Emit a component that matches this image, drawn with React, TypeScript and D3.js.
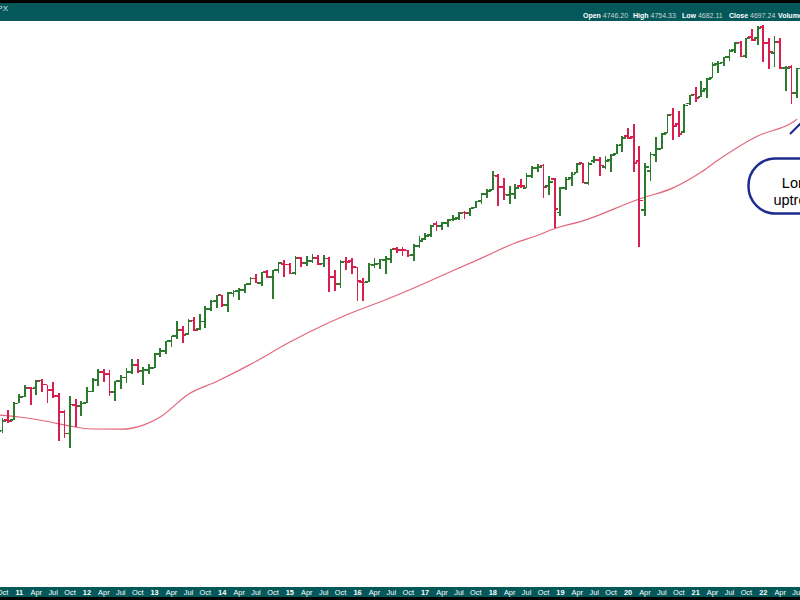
import React from "react";
import * as d3 from "d3";

// monthly $SPX bars, Sep 2010 .. Jul 2022
const opens = [
  1050, 1143, 1186, 1187,
  1258, 1289, 1329, 1329, 1365, 1345, 1321, 1293, 1219, 1131, 1251, 1247,
  1259, 1312, 1366, 1408, 1398, 1310, 1362, 1379, 1407, 1441, 1412, 1416,
  1426, 1498, 1515, 1569, 1598, 1632, 1610, 1689, 1636, 1682, 1759, 1807,
  1846, 1783, 1858, 1874, 1884, 1924, 1960, 1930, 2004, 1971, 2018, 2066,
  2059, 1997, 2105, 2068, 2087, 2109, 2067, 2104, 1970, 1920, 2081, 2083,
  2038, 1937, 1937, 2057, 2067, 2094, 2099, 2173, 2171, 2164, 2129, 2200,
  2252, 2286, 2380, 2362, 2389, 2416, 2431, 2477, 2474, 2521, 2583, 2645,
  2684, 2816, 2715, 2633, 2643, 2719, 2705, 2821, 2897, 2926, 2718, 2791,
  2477, 2702, 2798, 2849, 2952, 2752, 2971, 2980, 2909, 2984, 3051, 3144,
  3245, 3236, 2974, 2498, 2869, 3039, 3106, 3288, 3507, 3386, 3296, 3646,
  3765, 3731, 3843, 3993, 4192, 4217, 4301, 4407, 4529, 4317, 4611, 4603,
  4778, 4520, 4363, 4540, 4131, 4150, 3781,
];
const highs = [
  1149, 1196, 1227, 1263,
  1303, 1344, 1332, 1365, 1371, 1345, 1356, 1307, 1229, 1293, 1278, 1269,
  1333, 1378, 1419, 1422, 1415, 1363, 1392, 1427, 1475, 1471, 1434, 1448,
  1504, 1531, 1570, 1598, 1687, 1654, 1699, 1710, 1730, 1775, 1814, 1849,
  1851, 1868, 1884, 1897, 1924, 1968, 1991, 2005, 2019, 2018, 2076, 2094,
  2072, 2120, 2118, 2126, 2135, 2130, 2133, 2113, 2021, 2094, 2116, 2104,
  2038, 1963, 2072, 2111, 2103, 2121, 2177, 2194, 2188, 2170, 2214, 2278,
  2301, 2372, 2401, 2398, 2419, 2454, 2484, 2491, 2519, 2583, 2658, 2695,
  2873, 2836, 2802, 2717, 2742, 2791, 2848, 2917, 2941, 2940, 2815, 2800,
  2709, 2813, 2860, 2950, 2954, 2964, 3028, 3014, 3022, 3050, 3154, 3248,
  3338, 3394, 3137, 2955, 3069, 3233, 3280, 3515, 3588, 3550, 3646, 3760,
  3871, 3950, 3994, 4219, 4238, 4302, 4430, 4537, 4546, 4608, 4744, 4809,
  4819, 4595, 4637, 4593, 4170, 4178, 4140,
];
const lows = [
  1040, 1132, 1173, 1187,
  1258, 1289, 1249, 1295, 1312, 1258, 1283, 1102, 1114, 1075, 1159, 1202,
  1259, 1312, 1340, 1357, 1292, 1267, 1325, 1355, 1397, 1403, 1343, 1398,
  1426, 1485, 1501, 1536, 1581, 1560, 1605, 1627, 1633, 1646, 1746, 1768,
  1770, 1738, 1834, 1814, 1860, 1916, 1931, 1905, 1964, 1821, 2001, 1973,
  1988, 1981, 2040, 2048, 2068, 2056, 2044, 1867, 1872, 1894, 2019, 1993,
  1812, 1810, 1937, 2034, 2026, 1992, 2074, 2148, 2119, 2115, 2084, 2187,
  2245, 2272, 2322, 2329, 2353, 2406, 2408, 2417, 2447, 2520, 2557, 2606,
  2682, 2533, 2586, 2554, 2595, 2699, 2699, 2796, 2864, 2604, 2631, 2347,
  2444, 2682, 2722, 2849, 2751, 2729, 2952, 2822, 2892, 2856, 3051, 3070,
  3215, 2856, 2192, 2447, 2767, 2966, 3101, 3285, 3209, 3234, 3280, 3633,
  3663, 3726, 3723, 3993, 4057, 4164, 4233, 4368, 4306, 4279, 4560, 4495,
  4223, 4115, 4158, 4124, 3810, 3637, 3722,
];
const closes = [
  1141, 1183, 1181, 1258,
  1286, 1327, 1326, 1364, 1345, 1321, 1292, 1219, 1131, 1253, 1247, 1258,
  1312, 1366, 1408, 1398, 1310, 1362, 1379, 1407, 1441, 1412, 1416, 1426,
  1498, 1515, 1569, 1598, 1631, 1606, 1686, 1633, 1682, 1757, 1806, 1848,
  1783, 1859, 1872, 1884, 1924, 1960, 1931, 2003, 1972, 2018, 2068, 2059,
  1995, 2105, 2068, 2086, 2107, 2063, 2104, 1972, 1920, 2079, 2080, 2044,
  1940, 1932, 2060, 2065, 2097, 2099, 2174, 2171, 2168, 2126, 2199, 2239,
  2279, 2364, 2363, 2384, 2412, 2423, 2470, 2472, 2519, 2575, 2648, 2674,
  2824, 2714, 2641, 2648, 2705, 2718, 2816, 2902, 2914, 2712, 2760, 2507,
  2704, 2784, 2834, 2946, 2752, 2942, 2980, 2926, 2977, 3038, 3141, 3231,
  3226, 2954, 2585, 2912, 3044, 3100, 3271, 3500, 3363, 3270, 3622, 3756,
  3714, 3811, 3973, 4181, 4204, 4298, 4395, 4523, 4308, 4605, 4567, 4766,
  4516, 4374, 4530, 4132, 4132, 3785, 4130,
];

// long moving average
const maMonths = [
  "2010-09", "2011-01", "2011-06", "2011-10", "2012-02", "2012-07", "2012-11",
  "2013-02", "2013-07", "2013-12", "2014-06", "2015-01", "2015-05", "2015-11",
  "2016-05", "2016-11", "2017-05", "2017-11", "2018-05", "2018-09", "2018-12",
  "2019-05", "2020-03", "2020-09", "2021-02", "2021-05", "2021-12", "2022-06",
  "2022-07",
];
const maValues = [
  1208, 1199, 1180, 1161, 1149, 1148, 1165,
  1199, 1300, 1360, 1445, 1564, 1630, 1722,
  1803, 1895, 1998, 2107, 2223, 2285, 2340,
  2405, 2599, 2703, 2860, 2984, 3250, 3404,
  3450,
];

const ohlcLabels = [
  ["Open", "4746.20"],
  ["High", "4754.33"],
  ["Low", "4682.11"],
  ["Close", "4697.24"],
  ["Volume", ""],
];
const calloutLines = ["Long", "uptrend"];

const W = 800;
const H = 600;
const UP = "#2b7a2e";
const DOWN = "#d91f4f";
const TEAL = "#04585a";
const NAVY = "#1d2c8e";
const FONT = "Arial, 'Liberation Sans', sans-serif";

const months = d3.timeMonth.range(new Date(2010, 8, 1), new Date(2022, 7, 1));
const fmtKey = d3.timeFormat("%Y-%m");

export default function App() {
  const x = d3.scaleLinear().domain([0, months.length - 1]).range([-3.2, 797.1]);
  const y = d3.scaleLog().domain([1074, 4818]).range([448, 25]);

  const keyIndex = new Map(months.map((m, i) => [fmtKey(m), i]));
  const maPts: [number, number][] = maMonths.map((k, i) => [
    x(keyIndex.get(k) as number),
    y(maValues[i]),
  ]);
  const maPath = d3.line().curve(d3.curveMonotoneX)(maPts) || "";

  const ticks = months
    .map((m, i) => ({ m, i }))
    .filter(({ m }) => m.getMonth() % 3 === 0);

  const tickLen = 2.8;
  const bw = 1.8;

  return (
    <svg
      width={W}
      height={H}
      style={{ position: "absolute", left: 0, top: 0, display: "block" }}
      fontFamily={FONT}
    >
      <rect width={W} height={H} fill="#fff" />

      {/* header */}
      <rect x={0} y={0} width={W} height={21} fill={TEAL} />
      <rect x={0} y={0} width={W} height={3} fill="#000" />
      <text x={8} y={10.5} fontSize={8} fill="#d8e4e4" textAnchor="end">
        $SPX
      </text>
      <text y={18} fontSize={7} fill="#fff">
        {ohlcLabels.map(([lab, val], i) => (
          <tspan key={lab} x={583 + [0, 50, 99, 146, 195][i]}>
            <tspan fontWeight="bold">{lab}</tspan>
            <tspan fill="#c9d6d6">{val ? " " + val : ""}</tspan>
          </tspan>
        ))}
      </text>

      {/* moving average */}
      <path d={maPath} fill="none" stroke="#e2677a" strokeWidth={1.2} />

      {/* OHLC bars */}
      <g shapeRendering="crispEdges">
        {months.map((m, i) => {
          const cx = x(i);
          const col = closes[i] >= opens[i] ? UP : DOWN;
          const yo = y(opens[i]);
          const yc = y(closes[i]);
          return (
            <g key={i} fill={col}>
              <rect x={cx - bw / 2} y={y(highs[i])} width={bw} height={y(lows[i]) - y(highs[i])} />
              <rect x={cx - bw / 2 - tickLen} y={yo - 0.9} width={tickLen} height={1.8} />
              <rect x={cx + bw / 2} y={yc - 0.9} width={tickLen} height={1.8} />
            </g>
          );
        })}
      </g>

      {/* callout */}
      <line x1={790} y1={134} x2={806} y2={118} stroke={NAVY} strokeWidth={2.2} />
      <rect x={748.5} y={158.5} width={110} height={55} rx={27} ry={27} fill="#fff" stroke={NAVY} strokeWidth={2.5} />
      {calloutLines.map((t, i) => (
        <text key={t} x={798} y={188 + i * 16.5} fontSize={14.5} fill="#000" textAnchor="middle">
          {t}
        </text>
      ))}

      {/* bottom axis */}
      <rect x={0} y={587} width={W} height={10} fill={TEAL} />
      <rect x={0} y={597} width={W} height={3} fill="#000" />
      {ticks.map(({ m, i }) => {
        const isYear = m.getMonth() === 0;
        return (
          <text
            key={i}
            x={x(i)}
            y={595.2}
            fontSize={7.4}
            fill="#fff"
            textAnchor="middle"
            fontWeight={isYear ? "bold" : "normal"}
          >
            {isYear ? d3.timeFormat("%y")(m) : d3.timeFormat("%b")(m)}
          </text>
        );
      })}
    </svg>
  );
}
